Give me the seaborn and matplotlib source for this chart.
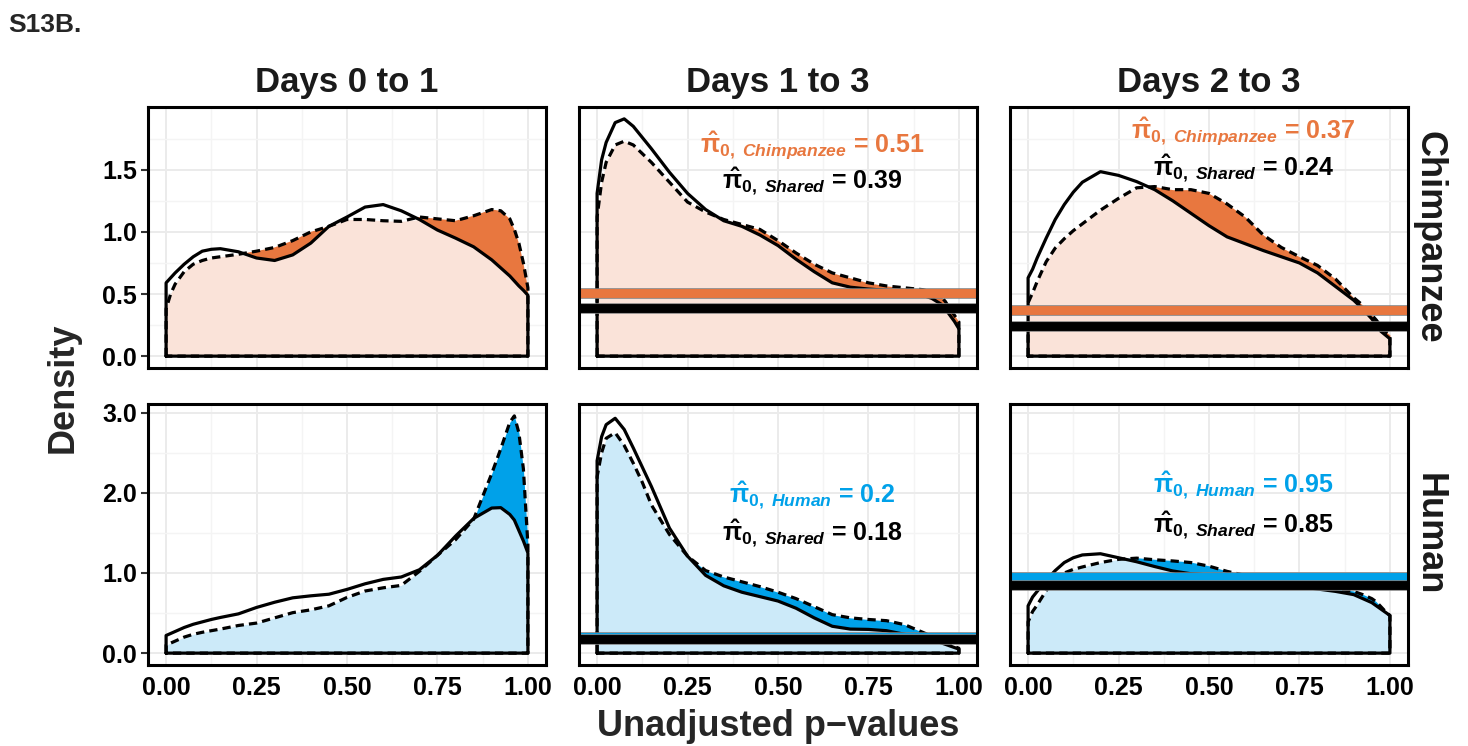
import numpy as np
import pandas as pd
import matplotlib
matplotlib.use("Agg")
import matplotlib.pyplot as plt
import matplotlib.patheffects as pe
from matplotlib.ticker import MultipleLocator
import seaborn as sns

sns.set_theme(style="white")
plt.rcParams["font.family"] = ["Liberation Sans", "DejaVu Sans"]
plt.rcParams["font.weight"] = "bold"
plt.rcParams["mathtext.fontset"] = "custom"
plt.rcParams["mathtext.rm"] = "Liberation Sans"
plt.rcParams["mathtext.it"] = "Liberation Sans:italic"
plt.rcParams["mathtext.bf"] = "Liberation Sans:bold"
try:
    plt.rcParams["mathtext.bfit"] = "Liberation Sans:bold:italic"
except KeyError:
    pass

# ---------------- data ----------------
periods = ["Days 0 to 1", "Days 1 to 3", "Days 2 to 3"]
species = ["Chimpanzee", "Human"]

p_grid = [0, 0.0125, 0.025, 0.05, 0.075, 0.1, 0.125, 0.15, 0.2, 0.25, 0.3, 0.35,
          0.4, 0.45, 0.5, 0.55, 0.6, 0.65, 0.7, 0.75, 0.8, 0.85, 0.9, 0.925,
          0.95, 0.9625, 0.975, 0.9875, 1.0]

# solid curves
solid_chimp_d01 = [0.59, 0.63, 0.67, 0.74, 0.80, 0.845, 0.86, 0.865, 0.84, 0.79, 0.77, 0.815,
                   0.91, 1.045, 1.12, 1.20, 1.22, 1.17, 1.10, 1.015, 0.95, 0.88, 0.775, 0.71,
                   0.645, 0.605, 0.565, 0.53, 0.49]
solid_chimp_d13 = [1.31, 1.58, 1.72, 1.88, 1.91, 1.85, 1.76, 1.67, 1.48, 1.31, 1.18, 1.09,
                   1.045, 0.975, 0.89, 0.78, 0.68, 0.59, 0.555, 0.54, 0.53, 0.515, 0.49, 0.465,
                   0.42, 0.38, 0.33, 0.28, 0.22]
solid_chimp_d23 = [0.63, 0.70, 0.79, 0.95, 1.10, 1.22, 1.32, 1.40, 1.485, 1.455, 1.405, 1.34,
                   1.25, 1.15, 1.05, 0.96, 0.905, 0.85, 0.80, 0.75, 0.67, 0.56, 0.45, 0.38,
                   0.30, 0.25, 0.20, 0.17, 0.14]
solid_human_d01 = [0.22, 0.245, 0.27, 0.32, 0.36, 0.39, 0.42, 0.445, 0.49, 0.57, 0.635, 0.69,
                   0.715, 0.735, 0.795, 0.865, 0.92, 0.95, 1.04, 1.22, 1.46, 1.68, 1.81, 1.815,
                   1.73, 1.66, 1.53, 1.40, 1.25]
solid_human_d13 = [2.40, 2.70, 2.85, 2.93, 2.79, 2.56, 2.32, 2.08, 1.56, 1.21, 0.97, 0.84,
                   0.76, 0.705, 0.65, 0.56, 0.44, 0.335, 0.30, 0.296, 0.28, 0.235, 0.19, 0.16,
                   0.13, 0.11, 0.09, 0.07, 0.05]
solid_human_d23 = [0.59, 0.70, 0.77, 0.91, 1.03, 1.13, 1.19, 1.225, 1.24, 1.19, 1.14, 1.08,
                   1.025, 0.99, 0.975, 0.965, 0.955, 0.94, 0.90, 0.83, 0.80, 0.77, 0.73, 0.68,
                   0.63, 0.59, 0.55, 0.51, 0.47]

# dashed curves
dashed_chimp_d01 = [0.38, 0.50, 0.58, 0.68, 0.74, 0.77, 0.79, 0.80, 0.82, 0.845, 0.875, 0.93,
                    1.0, 1.045, 1.10, 1.10, 1.09, 1.085, 1.12, 1.105, 1.09, 1.13, 1.18, 1.17,
                    1.105, 1.02, 0.91, 0.75, 0.55]
dashed_chimp_d13 = [1.12, 1.40, 1.56, 1.70, 1.73, 1.70, 1.63, 1.56, 1.40, 1.24, 1.16, 1.10,
                    1.06, 1.02, 0.93, 0.83, 0.74, 0.67, 0.63, 0.59, 0.565, 0.55, 0.535, 0.515,
                    0.48, 0.44, 0.38, 0.33, 0.275]
dashed_chimp_d23 = [0.43, 0.51, 0.60, 0.76, 0.87, 0.945, 1.01, 1.065, 1.175, 1.27, 1.355, 1.365,
                    1.34, 1.34, 1.31, 1.225, 1.12, 0.975, 0.875, 0.80, 0.73, 0.62, 0.47, 0.41,
                    0.33, 0.29, 0.24, 0.20, 0.17]
dashed_human_d01 = [0.10, 0.125, 0.15, 0.20, 0.235, 0.26, 0.28, 0.30, 0.345, 0.375, 0.44, 0.505,
                    0.54, 0.59, 0.695, 0.775, 0.815, 0.845, 1.02, 1.22, 1.415, 1.67, 2.24, 2.55,
                    2.88, 2.96, 2.75, 2.30, 1.35]
dashed_human_d13 = [2.20, 2.50, 2.68, 2.75, 2.59, 2.37, 2.13, 1.85, 1.48, 1.21, 1.03, 0.95,
                    0.89, 0.83, 0.76, 0.68, 0.58, 0.48, 0.44, 0.42, 0.405, 0.355, 0.26, 0.21,
                    0.16, 0.13, 0.11, 0.085, 0.06]
dashed_human_d23 = [0.39, 0.52, 0.60, 0.78, 0.92, 1.00, 1.045, 1.075, 1.13, 1.17, 1.185, 1.165,
                    1.15, 1.13, 1.085, 1.02, 0.97, 0.94, 0.905, 0.85, 0.82, 0.80, 0.77, 0.73,
                    0.68, 0.64, 0.58, 0.52, 0.47]

# pi0 estimates (None = not shown)
pi0_species_chimp = [None, 0.51, 0.37]
pi0_shared_chimp = [None, 0.39, 0.24]
pi0_species_human = [None, 0.2, 0.95]
pi0_shared_human = [None, 0.18, 0.85]

x_ticks = [0.00, 0.25, 0.50, 0.75, 1.00]
x_tick_labels = ["0.00", "0.25", "0.50", "0.75", "1.00"]
y_ticks_chimp = [0.0, 0.5, 1.0, 1.5]
y_tick_labels_chimp = ["0.0", "0.5", "1.0", "1.5"]
y_ticks_human = [0.0, 1.0, 2.0, 3.0]
y_tick_labels_human = ["0.0", "1.0", "2.0", "3.0"]

# ---------------- styling ----------------
dark = {"Chimpanzee": "#E8773F", "Human": "#00A1E9"}
light = {"Chimpanzee": "#FAE3D9", "Human": "#CCEAF9"}

solid = {"Chimpanzee": [solid_chimp_d01, solid_chimp_d13, solid_chimp_d23],
         "Human": [solid_human_d01, solid_human_d13, solid_human_d23]}
dashed = {"Chimpanzee": [dashed_chimp_d01, dashed_chimp_d13, dashed_chimp_d23],
          "Human": [dashed_human_d01, dashed_human_d13, dashed_human_d23]}
pi_sp = {"Chimpanzee": pi0_species_chimp, "Human": pi0_species_human}
pi_sh = {"Chimpanzee": pi0_shared_chimp, "Human": pi0_shared_human}
yt = {"Chimpanzee": (y_ticks_chimp, y_tick_labels_chimp, 0.25),
      "Human": (y_ticks_human, y_tick_labels_human, 0.5)}
# text baselines (data y) for the two annotation lines
annot_y = {"Chimpanzee": [None, (1.637, 1.347), (1.75, 1.444)],
           "Human": [None, (1.868, 1.395), (1.99, 1.50)]}

W, H = 1468, 746
fig = plt.figure(figsize=(W / 100, H / 100), dpi=100)
axes = fig.subplots(2, 3)
fig.subplots_adjust(left=148 / W, right=1408 / W, top=1 - 107 / H, bottom=1 - 665 / H,
                    wspace=33 / 398, hspace=36 / 261)

x = np.array(p_grid)
for r, sp in enumerate(species):
    row_max = max(max(max(v) for v in solid[sp]), max(max(v) for v in dashed[sp]))
    for c, per in enumerate(periods):
        ax = axes[r, c]
        s = np.array(solid[sp][c])
        d = np.array(dashed[sp][c])
        ax.set_axisbelow(True)
        ax.fill_between(x, 0, np.minimum(s, d), color=light[sp], lw=0, zorder=1)
        ax.fill_between(x, s, d, where=d > s, interpolate=True, color=dark[sp], lw=0, zorder=1)
        for yy, ls in ((d, (0, (2.6, 1.6))), (s, "-")):
            xp = np.concatenate([[x[0]], x, [x[-1], x[0]]])
            yp = np.concatenate([[0.0], yy, [0.0, 0.0]])
            sns.lineplot(x=xp, y=yp, ax=ax, sort=False, estimator=None, color="black",
                         linewidth=2.3, linestyle=ls, zorder=3)
        if pi_sp[sp][c] is not None:
            stroke = [pe.Stroke(linewidth=7.6, foreground="#808080"), pe.Normal()]
            ax.axhline(pi_sp[sp][c], color=dark[sp], lw=6.4, zorder=4, path_effects=stroke)
            ax.axhline(pi_sh[sp][c], color="black", lw=6.4, zorder=4, path_effects=stroke)
            y1, y2 = annot_y[sp][c]
            ax.text(0.595, y1,
                    r"$\hat{\mathrm{\pi}}_{0,\ \mathbfit{" + sp + r"}}$ = " + f"{pi_sp[sp][c]:g}",
                    color=dark[sp], fontsize=18, ha="center", va="baseline", zorder=5)
            ax.text(0.595, y2,
                    r"$\hat{\mathrm{\pi}}_{0,\ \mathbfit{Shared}}$ = " + f"{pi_sh[sp][c]:g}",
                    color="black", fontsize=18, ha="center", va="baseline", zorder=5)

        ax.set_xlim(-0.05, 1.05)
        ax.set_ylim(-0.05 * row_max, 1.05 * row_max)
        ax.set_xticks(x_ticks)
        ax.xaxis.set_minor_locator(MultipleLocator(0.125))
        ticks, labels, minor = yt[sp]
        ax.set_yticks(ticks)
        ax.yaxis.set_minor_locator(MultipleLocator(minor))
        ax.grid(True, which="major", color="#EBEBEB", lw=1.4)
        ax.grid(True, which="minor", color="#F4F4F4", lw=1.0)
        ax.tick_params(which="minor", length=0)
        ax.tick_params(which="major", length=5, width=1.5, color="#333333",
                       labelsize=18, pad=3, labelcolor="black")
        ax.set_xlabel("")
        ax.set_ylabel("")
        if r == 1:
            ax.set_xticklabels(x_tick_labels, fontweight="bold")
        else:
            ax.tick_params(axis="x", bottom=False, labelbottom=False)
        if c == 0:
            ax.set_yticklabels(labels, fontweight="bold")
            ax.tick_params(axis="y", left=True)
        else:
            ax.tick_params(axis="y", left=False, labelleft=False)
        for sp_ in ax.spines.values():
            sp_.set_color("black")
            sp_.set_linewidth(2.2)
            sp_.set_zorder(6)
        if r == 0:
            ax.text(0.5, 1 + (107 - 91.7) / 261, per, transform=ax.transAxes, ha="center",
                    va="baseline", fontsize=25, fontweight="bold", color="#1a1a1a")
        if c == 2:
            ax.text(1 + 21 / 398, 0.5, sp, transform=ax.transAxes, ha="center", va="center",
                    rotation=270, fontsize=26, fontweight="bold", color="#1a1a1a")

fig.text(63 / W, 1 - 388 / H, "Density", rotation=90, ha="center", va="center",
         fontsize=26, fontweight="bold")
fig.text(778 / W, 1 - 726 / H, "Unadjusted p\u2212values", ha="center", va="center",
         fontsize=26, fontweight="bold")
fig.text(8 / W, 1 - 32 / H, "S13B.", ha="left", va="baseline", fontsize=19, fontweight="bold")

fig.savefig("out.png", dpi=100)
